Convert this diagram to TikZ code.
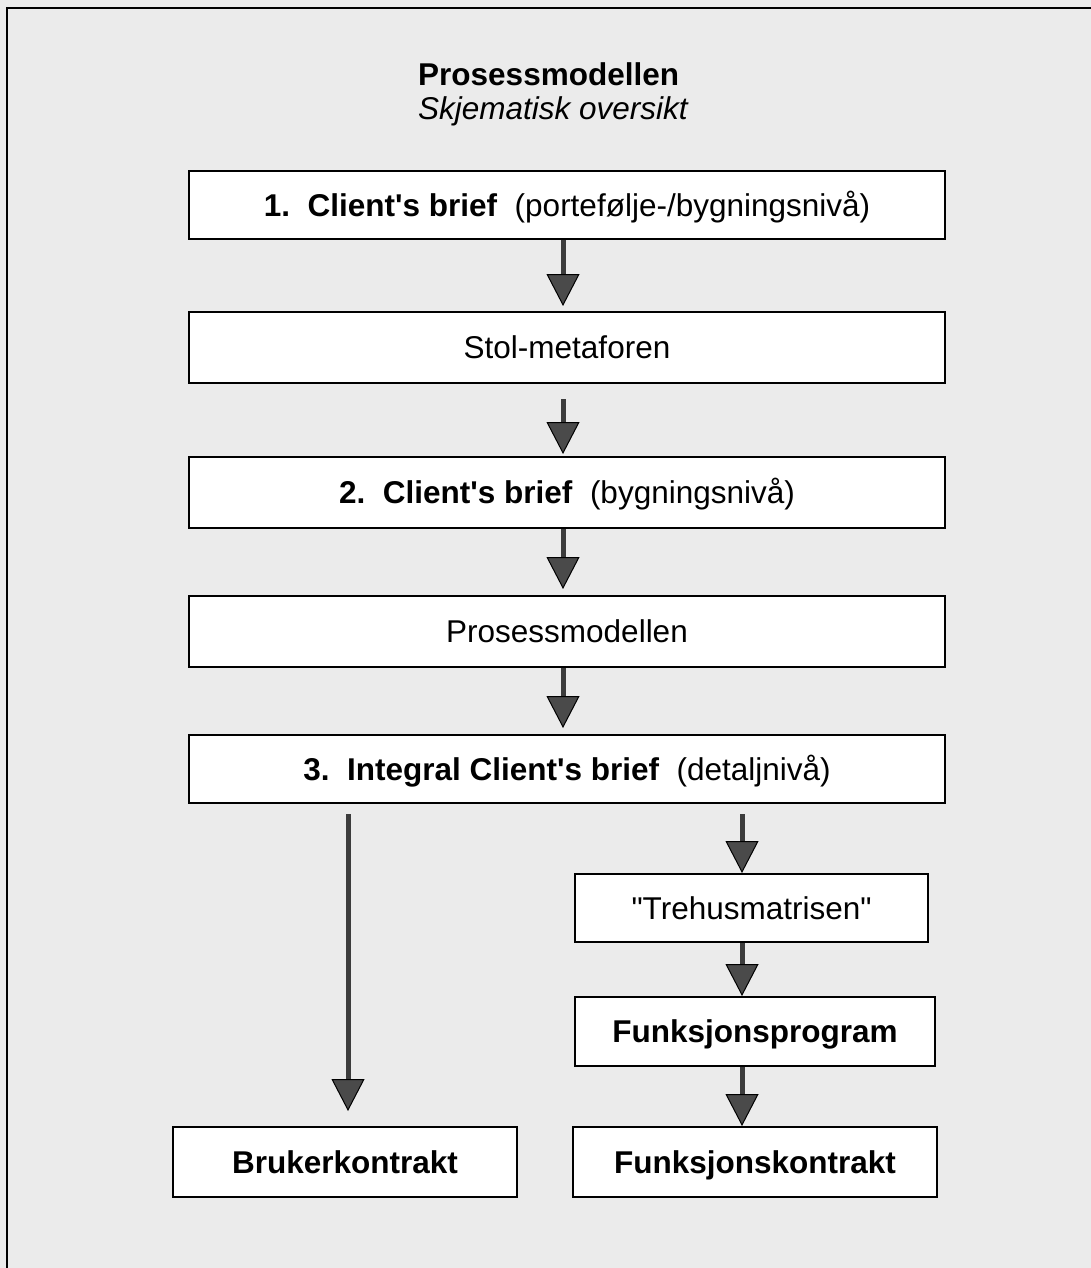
\documentclass[tikz,border=0pt]{standalone}
\usepackage{fontspec}
\setmainfont{Liberation Sans}[Ligatures=TeXOff]
\usetikzlibrary{arrows.meta}
\definecolor{paper}{HTML}{EBEBEB}
\definecolor{shaftgray}{HTML}{3C3C3C}
\definecolor{headgray}{HTML}{4A4A4A}

\begin{document}
\begin{tikzpicture}[x=1pt,y=-1pt,
  txt/.style={font=\fontsize{31.5}{38}\selectfont},
  box/.style={txt,draw=black,line width=2pt,fill=white,inner sep=0pt,align=center,
    text height=22.5pt,text depth=0pt},
  flow/.style={draw=shaftgray,line width=5pt,
    -{Triangle[width=33pt,length=32pt,color=black,fill=headgray,line width=1pt]}}
]
\useasboundingbox (0,0) rectangle (1091,1268);

% paper and outer frame
\fill[paper] (0,0) rectangle (1091,1268);
\draw[line width=2.5pt] (7,1300) -- (7,8) -- (1120,8);

% heading
\node[txt,anchor=base west,inner sep=0pt] (title) at (418,86) {\textbf{Prosessmodellen}};
\node[txt,anchor=base west,inner sep=0pt] (subtitle) at (418,120) {\textit{Skjematisk oversikt}};

% main column
\node[box,minimum width=756pt,minimum height=68pt] (b1) at (567,205)
  {\textbf{1.\ \ Client's brief}\ \ (portefølje-/bygningsnivå)};
\node[box,minimum width=756pt,minimum height=71pt] (b2) at (567,347.5) {Stol-metaforen};
\node[box,minimum width=756pt,minimum height=71pt] (b3) at (567,492.5)
  {\textbf{2.\ \ Client's brief}\ \ (bygningsnivå)};
\node[box,minimum width=756pt,minimum height=71pt] (b4) at (567,631.5) {Prosessmodellen};
\node[box,minimum width=756pt,minimum height=68pt] (b5) at (567,769)
  {\textbf{3.\ \ Integral Client's brief}\ \ (detaljnivå)};

% lower branches
\node[box,minimum width=344pt,minimum height=70pt] (bk) at (345,1162) {\textbf{Brukerkontrakt}};
\node[box,minimum width=353pt,minimum height=68pt] (tm) at (751.5,908) {"Trehusmatrisen"};
\node[box,minimum width=360pt,minimum height=69pt] (fp) at (755,1031.5) {\textbf{Funksjonsprogram}};
\node[box,minimum width=364pt,minimum height=70pt] (fk) at (755,1162) {\textbf{Funksjonskontrakt}};

% connectors
\draw[flow] ([xshift=-4pt]b1.south) -- ([xshift=-4pt,yshift=5pt]b2.north);
\draw[flow] ([xshift=-4pt,yshift=-15pt]b2.south) -- ([xshift=-4pt,yshift=2pt]b3.north);
\draw[flow] ([xshift=-4pt]b3.south) -- ([xshift=-4pt,yshift=6pt]b4.north);
\draw[flow] ([xshift=-4pt]b4.south) -- ([xshift=-4pt,yshift=6pt]b5.north);
\draw[flow] ([xshift=-219pt,yshift=-10pt]b5.south) -- ([xshift=3pt,yshift=15pt]bk.north);
\draw[flow] ([xshift=175pt,yshift=-10pt]b5.south) -- ([xshift=-9.5pt]tm.north);
\draw[flow] ([xshift=-9.5pt]tm.south) -- ([xshift=-13pt]fp.north);
\draw[flow] ([xshift=-13pt]fp.south) -- ([xshift=-13pt]fk.north);
\end{tikzpicture}
\end{document}
